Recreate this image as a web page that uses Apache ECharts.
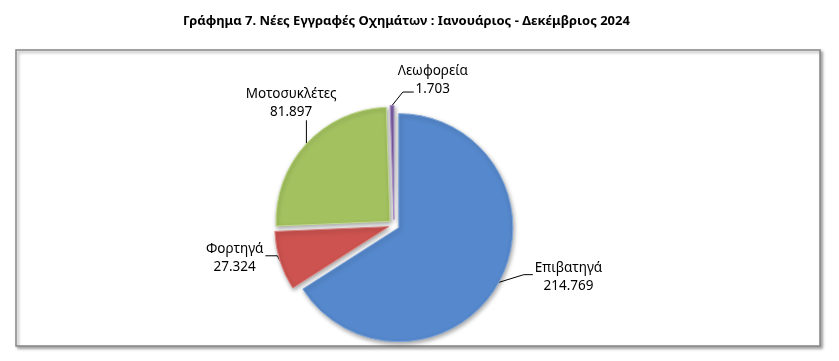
<!DOCTYPE html>
<html>
<head>
<meta charset="utf-8">
<script src="https://cdn.jsdelivr.net/npm/echarts@6/dist/echarts.min.js"></script>
<style>
html,body{margin:0;padding:0;background:#fff;}
#chart{width:839px;height:361px;}
</style>
</head>
<body>
<div id="chart"></div>
<script>
const titleText = 'Γράφημα 7. Νέες Εγγραφές Οχημάτων : Ιανουάριος - Δεκέμβριος 2024';
const categories = ['Επιβατηγά', 'Φορτηγά', 'Μοτοσυκλέτες', 'Λεωφορεία'];
const values = [214769, 27324, 81897, 1703];
const colors = ['#5588CC', '#CD5350', '#A3C25F', '#7E60A5'];
const borderColors = ['#7FA6DC', '#E08582', '#C2D98F', '#A58BC4'];
// label placement tweaks (style only): shift, leader anchor within label box, bend length
const labelCfg = [
  {dx: 12, dy: -9, ax: 0, ay: 0.42, gx: -2, bend: -9},
  {dx: 8, dy: -5, ax: 1, ay: 0.42, gx: 2, bend: 12},
  {dx: 53, dy: -35, mode: 'bottom'},
  {dx: 93, dy: -17, ax: 0.23, ay: 0.86, gx: 0, bend: -11}
];

function fmt(v) {
  return String(v).replace(/\B(?=(\d{3})+(?!\d))/g, '.');
}

const chart = echarts.init(document.getElementById('chart'), null, {renderer: 'canvas'});
chart.setOption({
  animation: false,
  backgroundColor: '#fff',
  title: {
    text: titleText,
    left: 178,
    top: 10,
    textStyle: {fontFamily: 'Noto Sans', fontWeight: 'bold', fontSize: 13, color: '#000'}
  },
  graphic: [{
    type: 'rect',
    shape: {x: 16, y: 50, width: 804, height: 296},
    style: {fill: '#fff', stroke: '#868686', lineWidth: 1.5,
            shadowBlur: 3, shadowOffsetX: 2, shadowOffsetY: 2, shadowColor: 'rgba(0,0,0,0.35)'},
    z: -10
  }],
  series: [{
    type: 'pie',
    center: [394, 225],
    radius: 114,
    startAngle: 90,
    clockwise: true,
    selectedMode: 'multiple',
    selectedOffset: 5.5,
    avoidLabelOverlap: false,
    emphasis: {disabled: true},
    data: categories.map((n, i) => ({
      name: n,
      value: values[i],
      selected: true,
      itemStyle: {color: colors[i], borderColor: borderColors[i], borderWidth: 1,
                  shadowBlur: 4, shadowOffsetX: 1, shadowOffsetY: 2, shadowColor: 'rgba(0,0,0,0.35)'}
    })),
    label: {
      show: true,
      position: 'outside',
      formatter: p => '{n|' + p.name + '}\n{n|' + fmt(p.value) + '}',
      rich: {n: {fontFamily: 'Noto Sans', fontSize: 13.5, color: '#000', align: 'center', lineHeight: 18}}
    },
    labelLine: {show: true, length: 8, length2: 12, lineStyle: {color: '#000', width: 1}},
    labelLayout: p => {
      const c = labelCfg[p.dataIndex];
      const r = p.labelRect;
      const out = {dx: c.dx, dy: c.dy};
      const pts = p.labelLinePoints;
      if (pts && pts.length) {
        const p0 = pts[0];
        const x = r.x + c.dx, y = r.y + c.dy;
        let p1, p2;
        if (c.mode === 'bottom') {
          p2 = [p0[0], y + r.height + 1];
          p1 = [p0[0], (p0[1] + p2[1]) / 2];
        } else {
          p2 = [x + c.ax * r.width + c.gx, y + c.ay * r.height];
          p1 = [p2[0] + c.bend, p2[1]];
        }
        out.labelLinePoints = [p0, p1, p2];
      }
      return out;
    }
  }]
});
</script>
</body>
</html>
